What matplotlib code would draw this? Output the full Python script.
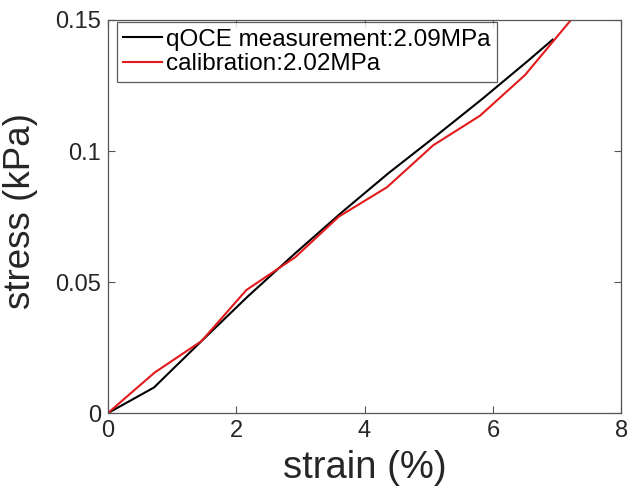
import matplotlib
matplotlib.use("Agg")
from matplotlib import pyplot as plt

plt.rcParams['font.family'] = ['Liberation Sans', 'DejaVu Sans']

# qOCE measurement (black)
qoce_strain = [0, 0.72, 1.46, 2.18, 2.92, 3.64, 4.37, 5.10, 5.83, 6.55, 6.93]
qoce_stress = [0, 0.0098, 0.0275, 0.0445, 0.061, 0.0765, 0.0915, 0.1055, 0.1198, 0.1345, 0.1425]

# calibration (red)
cal_strain = [0, 0.73, 1.46, 2.16, 2.92, 3.60, 4.35, 5.07, 5.80, 6.50, 7.25]
cal_stress = [0, 0.0155, 0.0275, 0.047, 0.0595, 0.075, 0.0862, 0.1022, 0.1135, 0.1290, 0.151]

x_ticks = [0, 2, 4, 6, 8]
y_ticks = [0, 0.05, 0.1, 0.15]
y_ticklabels = ['0', '0.05', '0.1', '0.15']

fig = plt.figure(figsize=(6.34, 4.99), dpi=100)
ax = fig.add_axes([0.170, 0.172, 0.810, 0.788])

ax.plot(qoce_strain, qoce_stress, color='black', lw=1.5, label='qOCE measurement:2.09MPa')
ax.plot(cal_strain, cal_stress, color='#e31a1c', lw=1.5, label='calibration:2.02MPa')

ax.set_xlim(0, 8)
ax.set_ylim(0, 0.15)
ax.set_xticks(x_ticks)
ax.set_yticks(y_ticks)
ax.set_yticklabels(y_ticklabels)

txt = '#262626'
ax.tick_params(direction='in', length=5, width=0.8, top=True, right=True,
               labelsize=17, colors='#555555', labelcolor=txt)
ax.tick_params(axis='x', pad=5)
ax.tick_params(axis='y', pad=5)
for s in ax.spines.values():
    s.set_color('#555555')
    s.set_linewidth(0.9)

ax.set_xlabel('strain (%)', fontsize=27.5, color=txt, labelpad=6)
ax.set_ylabel('stress (kPa)', fontsize=26.5, color=txt, labelpad=4)
ax.yaxis.set_label_coords(-0.135, 0.515)

leg = ax.legend(loc='upper left', bbox_to_anchor=(0.017, 0.995), fontsize=17.5,
                frameon=True, fancybox=False, edgecolor='#333333',
                borderaxespad=0.0, borderpad=0.28,
                handlelength=1.6, handletextpad=0.15, labelspacing=0.1)
leg.get_frame().set_linewidth(0.9)
for t in leg.get_texts():
    t.set_color('black')

plt.savefig('out.png', dpi=100)
